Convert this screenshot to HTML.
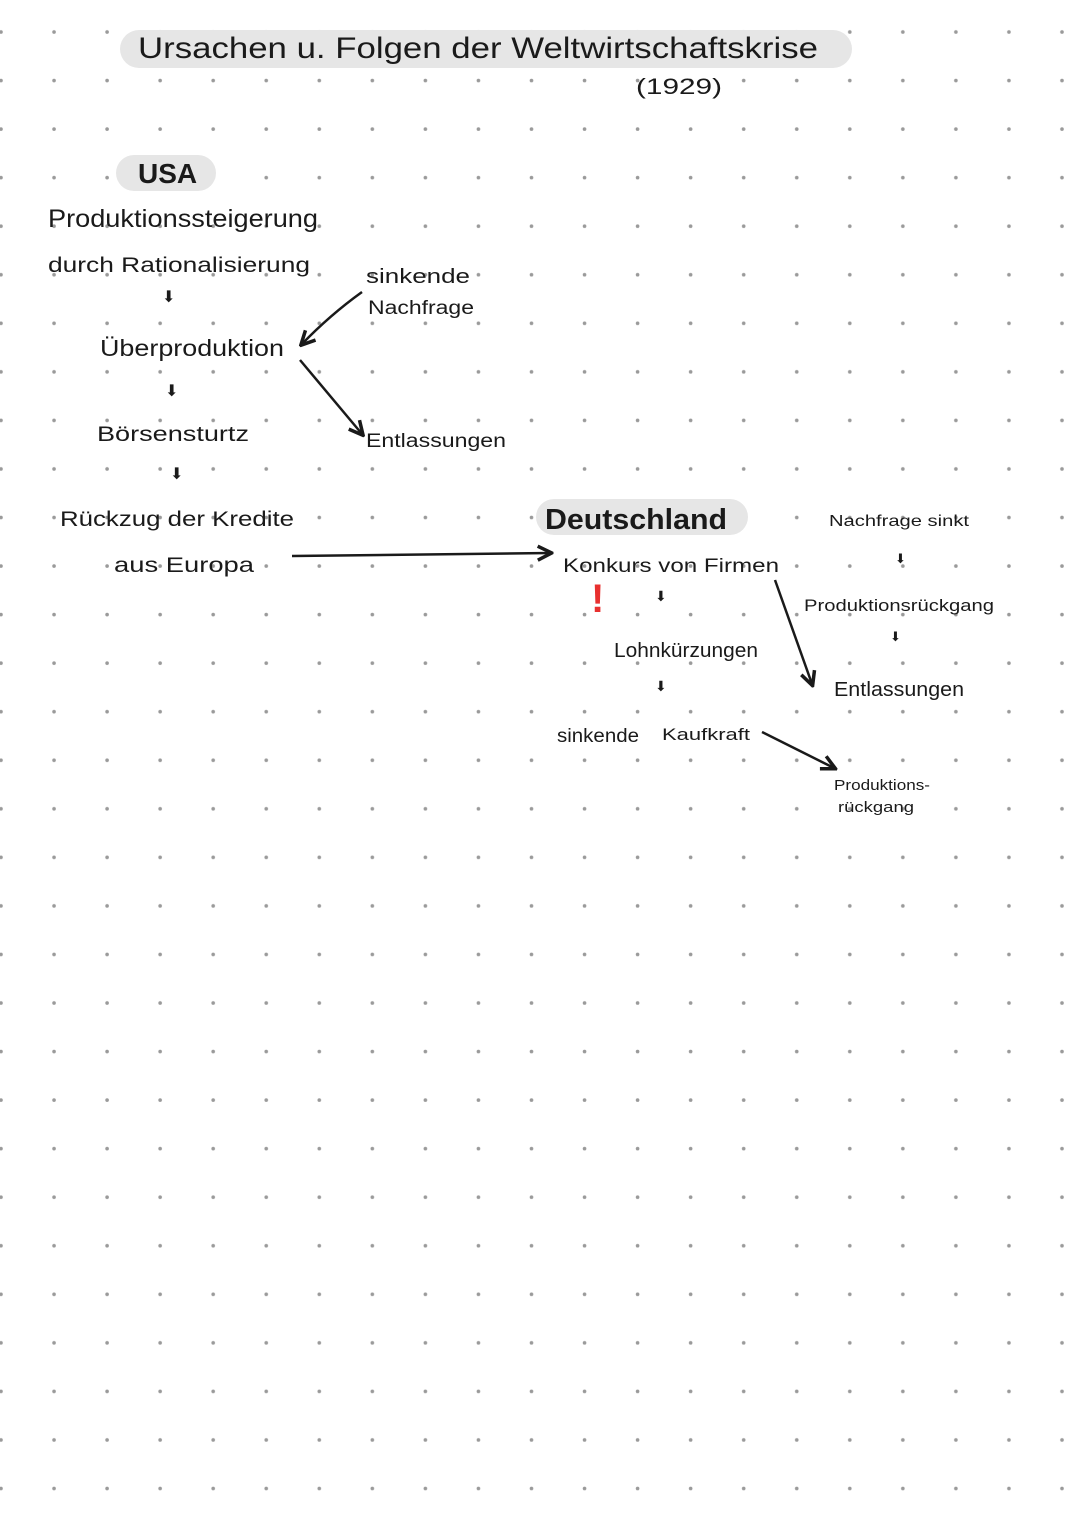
<!DOCTYPE html>
<html><head><meta charset="utf-8"><style>
html,body{margin:0;padding:0;background:#fff}
svg{display:block}
text{font-family:"Liberation Sans",sans-serif;fill:#1a1a1a}
</style></head><body>
<svg width="1080" height="1526" viewBox="0 0 1080 1526" xmlns="http://www.w3.org/2000/svg">
<defs>
<pattern id="dots" x="-10" y="22" width="53.05" height="48.55" patternUnits="userSpaceOnUse">
<circle cx="11" cy="10" r="1.8" fill="#9a9a9a"/>
</pattern>
<marker id="ah" viewBox="0 0 10 10" refX="8" refY="5" markerWidth="7" markerHeight="7" orient="auto"><path d="M1,1 L9,5 L1,9" fill="none" stroke="#1a1a1a" stroke-width="2"/></marker>
</defs>
<rect width="1080" height="1526" fill="url(#dots)"/>
<rect x="120" y="30" width="732" height="38" rx="19" fill="#e6e6e6"/>
<text x="138" y="58" font-size="30" textLength="680" lengthAdjust="spacingAndGlyphs">Ursachen u. Folgen der Weltwirtschaftskrise</text>
<text x="636" y="94" font-size="22" textLength="86" lengthAdjust="spacingAndGlyphs">(1929)</text>
<rect x="116" y="155" width="100" height="36" rx="18" fill="#e6e6e6"/>
<text x="138" y="183" font-size="28" font-weight="bold">USA</text>
<text x="48" y="227" font-size="25" textLength="270" lengthAdjust="spacingAndGlyphs">Produktionssteigerung</text>
<text x="48" y="272" font-size="21" textLength="262" lengthAdjust="spacingAndGlyphs">durch Rationalisierung</text>
<text x="162" y="302" font-size="16">⬇</text>
<text x="100" y="356" font-size="23" textLength="184" lengthAdjust="spacingAndGlyphs">Überproduktion</text>
<text x="165" y="396" font-size="16">⬇</text>
<text x="97" y="441" font-size="21" textLength="152" lengthAdjust="spacingAndGlyphs">Börsensturtz</text>
<text x="170" y="479" font-size="16">⬇</text>
<text x="60" y="526" font-size="21" textLength="234" lengthAdjust="spacingAndGlyphs">Rückzug der Kredite</text>
<text x="114" y="572" font-size="21" textLength="140" lengthAdjust="spacingAndGlyphs">aus Europa</text>
<text x="366" y="283" font-size="20" textLength="104" lengthAdjust="spacingAndGlyphs">sinkende</text>
<text x="368" y="314" font-size="19" textLength="106" lengthAdjust="spacingAndGlyphs">Nachfrage</text>
<path d="M362 292 Q330 315 302 344" stroke="#1a1a1a" stroke-width="2.5" fill="none" marker-end="url(#ah)"/>
<path d="M300 360 L362 434" stroke="#1a1a1a" stroke-width="2.5" fill="none" marker-end="url(#ah)"/>
<text x="366" y="447" font-size="19" textLength="140" lengthAdjust="spacingAndGlyphs">Entlassungen</text>
<path d="M292 556 L550 553" stroke="#1a1a1a" stroke-width="2.5" fill="none" marker-end="url(#ah)"/>
<rect x="536" y="499" width="212" height="36" rx="18" fill="#e6e6e6"/>
<text x="545" y="529" font-size="29" font-weight="bold" textLength="182" lengthAdjust="spacingAndGlyphs">Deutschland</text>
<text x="563" y="572" font-size="19" textLength="216" lengthAdjust="spacingAndGlyphs">Konkurs von Firmen</text>
<text x="591" y="612" font-size="40" font-weight="bold" style="fill:#e8302f">!</text>
<text x="655" y="601" font-size="14">⬇</text>
<text x="614" y="657" font-size="20" textLength="144" lengthAdjust="spacingAndGlyphs">Lohnkürzungen</text>
<text x="655" y="691" font-size="14">⬇</text>
<text x="557" y="742" font-size="19" textLength="82" lengthAdjust="spacingAndGlyphs">sinkende</text>
<text x="662" y="740" font-size="17" textLength="88" lengthAdjust="spacingAndGlyphs">Kaufkraft</text>
<path d="M762 732 L834 768" stroke="#1a1a1a" stroke-width="2.5" fill="none" marker-end="url(#ah)"/>
<text x="834" y="790" font-size="15" textLength="96" lengthAdjust="spacingAndGlyphs">Produktions-</text>
<text x="838" y="812" font-size="15" textLength="76" lengthAdjust="spacingAndGlyphs">rückgang</text>
<path d="M775 580 L812 684" stroke="#1a1a1a" stroke-width="2.5" fill="none" marker-end="url(#ah)"/>
<text x="829" y="526" font-size="16" textLength="140" lengthAdjust="spacingAndGlyphs">Nachfrage sinkt</text>
<text x="895" y="563" font-size="13">⬇</text>
<text x="804" y="611" font-size="17" textLength="190" lengthAdjust="spacingAndGlyphs">Produktionsrückgang</text>
<text x="890" y="641" font-size="13">⬇</text>
<text x="834" y="696" font-size="20" textLength="130" lengthAdjust="spacingAndGlyphs">Entlassungen</text>
</svg>
</body></html>
